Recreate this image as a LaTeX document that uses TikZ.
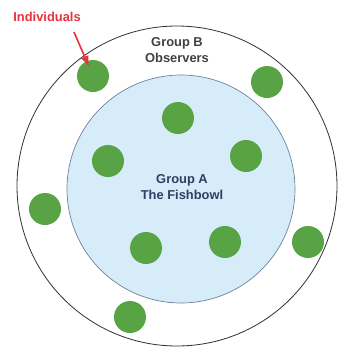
\documentclass[tikz,border=0pt]{standalone}
\usepackage{fontspec}
\setmainfont{Liberation Sans}
\usetikzlibrary{arrows.meta}
\definecolor{bowlblue}{RGB}{214,236,249}
\definecolor{bowledge}{RGB}{110,130,160}
\definecolor{dotgreen}{RGB}{88,164,68}
\definecolor{textnavy}{RGB}{50,60,100}
\definecolor{labelred}{RGB}{232,50,60}

\begin{document}
\begin{tikzpicture}[x=0.03cm, y=-0.03cm, >=Latex]
        \tikzstyle{person}=[circle, fill=dotgreen, minimum size=0.96cm, inner sep=0pt]
        \tikzstyle{caption}=[align=center, font=\fontsize{11}{13.5}\selectfont\bfseries, inner sep=0pt]
        \useasboundingbox (0,0) rectangle (340,351);

        % the two groups
        \draw[black!80, line width=0.7pt] (177,186) circle (160);
        \draw[bowledge, fill=bowlblue, line width=0.6pt] (181,189) circle (114);

        \node[caption, text=black!75] (groupB) at (177,50) {Group B\\Observers};
        \node[caption, text=textnavy] (groupA) at (182,187) {Group A\\The Fishbowl};

        % group B, outside the bowl
        \node[person] (b1) at (93,76) {};
        \node[person] (b2) at (267,82) {};
        \node[person] (b3) at (45,209) {};
        \node[person] (b4) at (308,242) {};
        \node[person] (b5) at (130,317) {};
        % group A, in the bowl
        \node[person] (a1) at (178,118) {};
        \node[person] (a2) at (108,161) {};
        \node[person] (a3) at (246,156) {};
        \node[person] (a4) at (146,248) {};
        \node[person] (a5) at (225,242) {};

        \node[font=\fontsize{11}{13}\selectfont\bfseries, text=labelred, inner sep=0pt] (indiv) at (47,17) {Individuals};
        \coordinate (tail) at (74,32);
        \draw[->, labelred, line width=1.4pt, shorten >=0.3cm] (tail) -- (b1.center);
    \end{tikzpicture}
\end{document}
